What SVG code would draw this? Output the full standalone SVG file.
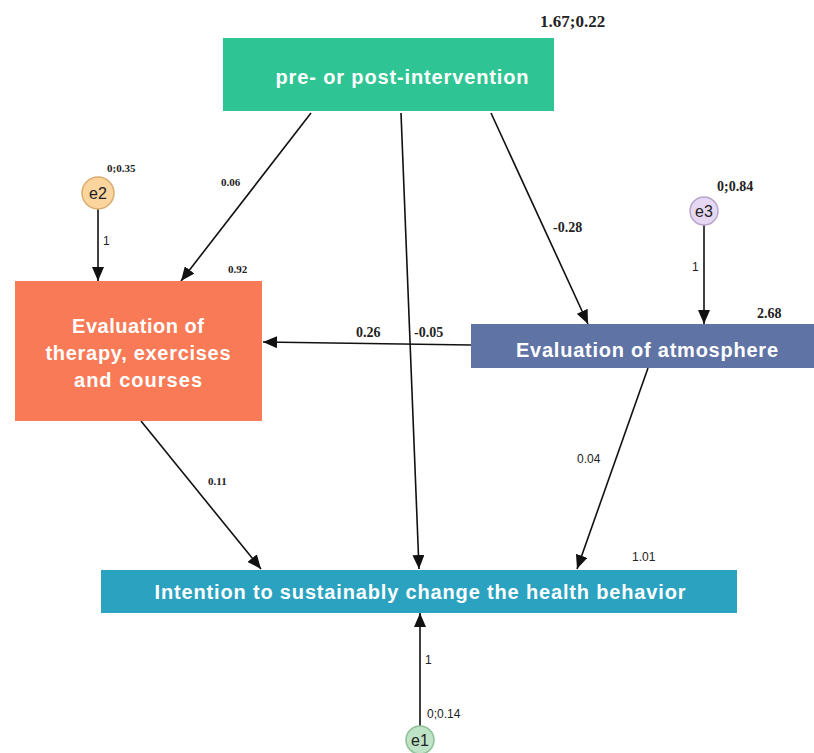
<svg xmlns="http://www.w3.org/2000/svg" width="814" height="753" viewBox="0 0 814 753">
<style>
.box{stroke:none}
.nt{font-family:"Liberation Sans",Arial,sans-serif;font-weight:bold;fill:#ffffff;text-anchor:middle;font-size:20px}
.e{font-family:"Liberation Sans",Arial,sans-serif;font-size:16px;fill:#222;text-anchor:middle}
.c{stroke:#111;stroke-width:1.6;fill:none;marker-end:url(#ah)}
.ls{font-family:"Liberation Serif","Times New Roman",serif;font-weight:bold;fill:#222}
.la{font-family:"Liberation Sans",Arial,sans-serif;fill:#222;font-size:12px}
</style>
<defs>
<marker id="ah" viewBox="0 0 14 12" refX="14" refY="6" markerWidth="14" markerHeight="12" markerUnits="userSpaceOnUse" orient="auto">
<path d="M0,0 L14,6 L0,12 Z" fill="#111"/>
</marker>
</defs>
<rect width="814" height="753" fill="#ffffff"/>
<g id="connectors">
<line class="c" x1="311" y1="113" x2="181" y2="281"/>
<line class="c" x1="401" y1="113" x2="419" y2="569"/>
<line class="c" x1="491" y1="113" x2="588" y2="324"/>
<line class="c" x1="98" y1="209" x2="98" y2="281"/>
<line class="c" x1="704" y1="225" x2="704" y2="324"/>
<line class="c" x1="471" y1="345" x2="263" y2="342"/>
<line class="c" x1="141" y1="421" x2="261" y2="569"/>
<line class="c" x1="648" y1="368" x2="577" y2="569"/>
<line class="c" x1="420" y1="727" x2="420" y2="613"/>
</g>
<g id="n-pre">
<rect class="box" x="223" y="38" width="331" height="73" fill="#2fc493"/>
<text class="nt" x="402" y="84" textLength="253" lengthAdjust="spacing">pre- or post-intervention</text>
</g>
<g id="n-therapy">
<rect class="box" x="15" y="281" width="247" height="140" fill="#f97a56"/>
<text class="nt" x="138" y="333" textLength="132" lengthAdjust="spacing">Evaluation of</text>
<text class="nt" x="138" y="360" textLength="185" lengthAdjust="spacing">therapy, exercises</text>
<text class="nt" x="138" y="387" textLength="128" lengthAdjust="spacing">and courses</text>
</g>
<g id="n-atmo">
<rect class="box" x="471" y="324" width="343" height="44" fill="#5f73a5"/>
<text class="nt" x="647" y="357" textLength="262" lengthAdjust="spacing">Evaluation of atmosphere</text>
</g>
<g id="n-intent">
<rect class="box" x="101" y="570" width="636" height="43" fill="#2aa2c0"/>
<text class="nt" x="420" y="599" textLength="531" lengthAdjust="spacing">Intention to sustainably change the health behavior</text>
</g>
<g id="n-e2">
<circle cx="98" cy="193" r="16" fill="#fbd49e" stroke="#d8ad6e" stroke-width="1.5"/>
<text class="e" x="98" y="199">e2</text>
</g>
<g id="n-e3">
<circle cx="704" cy="211" r="14" fill="#e6d8f2" stroke="#b9a6cc" stroke-width="1.5"/>
<text class="e" x="704" y="217">e3</text>
</g>
<g id="n-e1">
<circle cx="420" cy="740" r="14" fill="#bfe3c6" stroke="#8fc29a" stroke-width="1.5"/>
<text class="e" x="420" y="746">e1</text>
</g>
<g id="labels">
<text class="ls" x="540" y="27" font-size="17">1.67;0.22</text>
<text class="ls" x="107" y="172" font-size="11">0;0.35</text>
<text class="ls" x="221" y="186" font-size="11">0.06</text>
<text class="la" x="103" y="245">1</text>
<text class="ls" x="228" y="273" font-size="11">0.92</text>
<text class="ls" x="553" y="232" font-size="14">-0.28</text>
<text class="ls" x="717" y="191" font-size="14">0;0.84</text>
<text class="la" x="692" y="271">1</text>
<text class="ls" x="757" y="318" font-size="14">2.68</text>
<text class="ls" x="356" y="337" font-size="14">0.26</text>
<text class="ls" x="414" y="337" font-size="14">-0.05</text>
<text class="ls" x="208" y="485" font-size="11">0.11</text>
<text class="la" x="577" y="463">0.04</text>
<text class="la" x="632" y="561">1.01</text>
<text class="la" x="425" y="664">1</text>
<text class="la" x="427" y="718">0;0.14</text>
</g>
</svg>
